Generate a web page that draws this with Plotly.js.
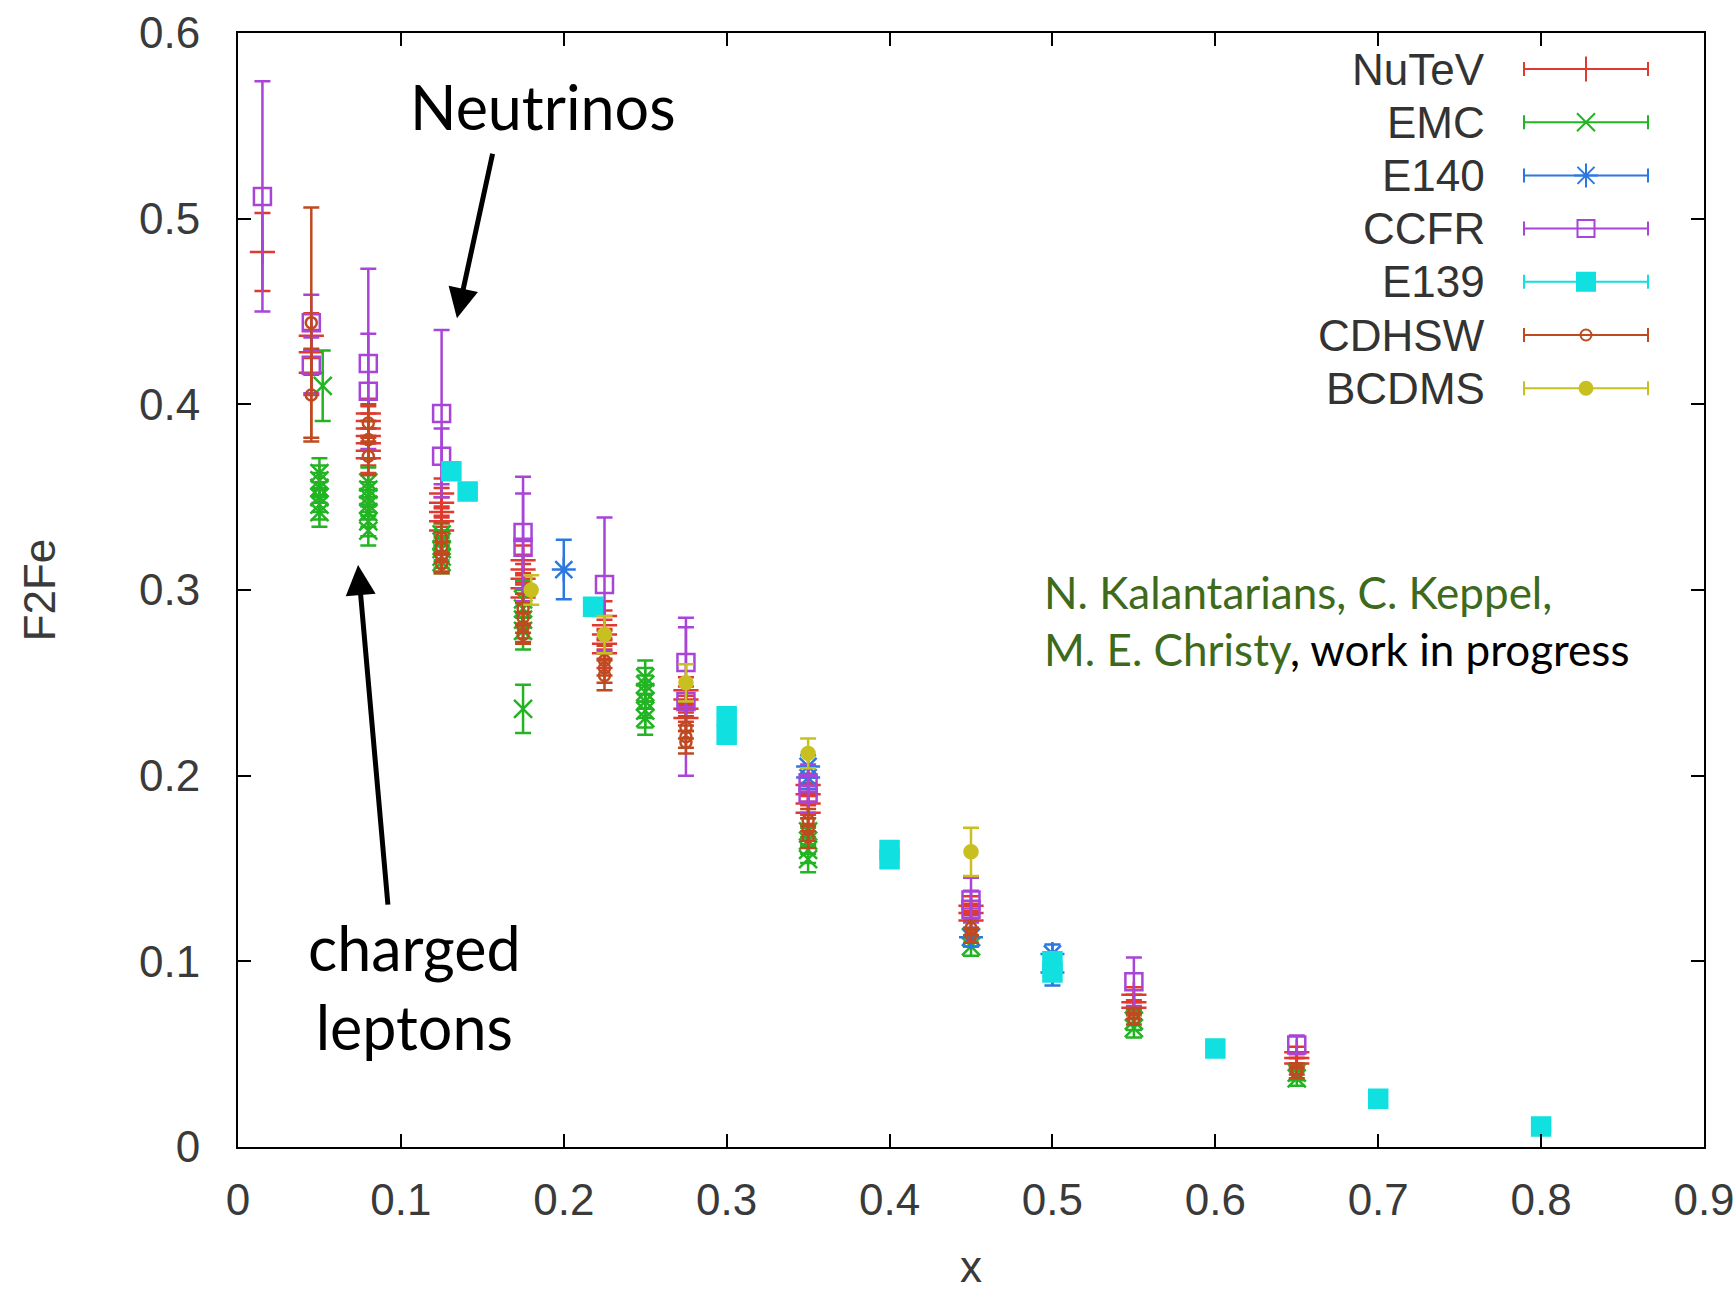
<!DOCTYPE html>
<html><head><meta charset="utf-8">
<script src="https://cdn.plot.ly/plotly-3.0.1.min.js"></script>
<style>html,body{margin:0;padding:0;background:#fff}#chart{width:1736px;height:1291px}</style>
</head><body><div id="chart"></div>
<script>
// ---------------- data ----------------
const seriesNames = ["NuTeV", "EMC", "E140", "CCFR", "E139", "CDHSW", "BCDMS"];

const nutevX = [0.015, 0.045,0.045,0.045, 0.08,0.08,0.08,0.08,0.08,0.08,0.08, 0.125,0.125,0.125,0.125,0.125, 0.175,0.175,0.175,0.175,0.175, 0.225,0.225,0.225,0.225,0.225, 0.275,0.275,0.275,0.275, 0.35,0.35,0.35,0.35, 0.45,0.45,0.45, 0.55,0.55,0.55, 0.65,0.65,0.65];
const nutevY = [0.482, 0.437,0.428,0.417, 0.395,0.391,0.387,0.383,0.379,0.375,0.371, 0.352,0.347,0.342,0.337,0.332, 0.316,0.311,0.306,0.301,0.296, 0.286,0.281,0.276,0.271,0.266, 0.246,0.241,0.236,0.231, 0.195,0.190,0.185,0.180, 0.130,0.126,0.122, 0.082,0.078,0.075, 0.051,0.048,0.045];
const nutevE = [0.021, 0.012,0.012,0.012, 0.008,0.008,0.008,0.008,0.008,0.008,0.008, 0.008,0.008,0.008,0.008,0.008, 0.008,0.008,0.008,0.008,0.008, 0.008,0.008,0.008,0.008,0.008, 0.007,0.007,0.007,0.007, 0.006,0.006,0.006,0.006, 0.005,0.005,0.005, 0.004,0.004,0.004, 0.003,0.003,0.003];

const emcX = [0.052, 0.05,0.05,0.05,0.05,0.05,0.05, 0.08,0.08,0.08,0.08,0.08,0.08,0.08, 0.125,0.125,0.125,0.125,0.125, 0.175,0.175,0.175,0.175, 0.175, 0.25,0.25,0.25,0.25,0.25,0.25, 0.35,0.35,0.35,0.35, 0.45,0.45, 0.55,0.55, 0.65,0.65];
const emcY = [0.410, 0.363,0.359,0.355,0.350,0.346,0.342, 0.358,0.354,0.350,0.346,0.342,0.337,0.332, 0.330,0.326,0.322,0.318,0.315, 0.295,0.290,0.284,0.278, 0.236, 0.253,0.249,0.245,0.240,0.235,0.231, 0.170,0.165,0.160,0.155, 0.113,0.108, 0.068,0.064, 0.040,0.037];
const emcE = [0.019, 0.008,0.008,0.008,0.008,0.008,0.008, 0.008,0.008,0.008,0.008,0.008,0.008,0.008, 0.006,0.006,0.006,0.006,0.006, 0.010,0.010,0.010,0.010, 0.013, 0.009,0.009,0.009,0.009,0.009,0.009, 0.007,0.007,0.007,0.007, 0.005,0.005, 0.005,0.005, 0.004,0.004];

const e140X = [0.2, 0.35, 0.35, 0.45, 0.5, 0.5];
const e140Y = [0.311, 0.205, 0.199, 0.113, 0.104, 0.094];
const e140E = [0.016, 0.006, 0.006, 0.005, 0.005, 0.007];

const ccfrX = [0.015, 0.045,0.045, 0.08,0.08, 0.125,0.125, 0.175,0.175, 0.225, 0.275,0.275, 0.35,0.35, 0.45,0.45, 0.55, 0.65];
const ccfrY = [0.512, 0.444,0.421, 0.422,0.407, 0.395,0.372, 0.331,0.323, 0.303, 0.261,0.240, 0.196,0.190, 0.133,0.128, 0.089, 0.055];
const ccfrE = [0.062, 0.015,0.015, 0.051,0.031, 0.045,0.015, 0.030,0.029, 0.036, 0.024,0.040, 0.010,0.010, 0.012,0.010, 0.013, 0.005];

const e139X = [0.131, 0.141, 0.218, 0.3, 0.3, 0.4, 0.4, 0.5, 0.5, 0.6, 0.7, 0.8];
const e139Y = [0.364, 0.353, 0.291, 0.232, 0.222, 0.160, 0.155, 0.100, 0.094, 0.053, 0.026, 0.011];
const e139E = [0.003, 0.003, 0.003, 0.003, 0.003, 0.003, 0.003, 0.003, 0.003, 0.002, 0.002, 0.002];

const cdhswX = [0.045,0.045, 0.08,0.08,0.08, 0.125,0.125,0.125,0.125, 0.175,0.175,0.175,0.175, 0.225,0.225,0.225, 0.275,0.275,0.275, 0.35,0.35,0.35, 0.45,0.45, 0.55,0.55, 0.65,0.65];
const cdhswY = [0.444,0.405, 0.390,0.381,0.372, 0.328,0.323,0.318,0.314, 0.290,0.285,0.280,0.276, 0.262,0.258,0.254, 0.226,0.221,0.218, 0.176,0.171,0.167, 0.118,0.114, 0.072,0.069, 0.042,0.040];
const cdhswE = [0.062,0.025, 0.010,0.010,0.010, 0.008,0.008,0.008,0.005, 0.008,0.008,0.008,0.005, 0.008,0.008,0.008, 0.006,0.006,0.006, 0.006,0.006,0.006, 0.004,0.004, 0.003,0.003, 0.003,0.003];

const bcdmsX = [0.18, 0.225, 0.275, 0.35, 0.45];
const bcdmsY = [0.300, 0.276, 0.250, 0.212, 0.159];
const bcdmsE = [0.008, 0.010, 0.010, 0.008, 0.013];

const xTicks = [0, 0.1, 0.2, 0.3, 0.4, 0.5, 0.6, 0.7, 0.8, 0.9];
const yTicks = [0, 0.1, 0.2, 0.3, 0.4, 0.5, 0.6];

// ---------------- styles ----------------
const colors  = ["#e03a30", "#22b422", "#2a78e0", "#a844d8", "#10e0e0", "#c04a20", "#c8c020"];
const symbols = ["cross-thin-open", "x-thin-open", "asterisk-open", "square-open", "square", "circle-open", "circle"];
const sizes   = [18, 18, 20, 17, 18, 11, 13];
const xs = [nutevX, emcX, e140X, ccfrX, e139X, cdhswX, bcdmsX];
const ys = [nutevY, emcY, e140Y, ccfrY, e139Y, cdhswY, bcdmsY];
const es = [nutevE, emcE, e140E, ccfrE, e139E, cdhswE, bcdmsE];

const W = 1736, H = 1291;
const PL = 238, PR = 1704, PT = 33, PB = 1147;
const pxToPaperX = px => (px - PL) / (PR - PL);
const pxToPaperY = py => (PB - py) / (PB - PT);

const traces = [];
seriesNames.forEach((n, i) => {
  traces.push({
    type: "scatter", mode: "markers", name: n, showlegend: false,
    x: xs[i], y: ys[i],
    error_y: {type: "data", array: es[i], visible: true, color: colors[i], thickness: 2.5, width: 8},
    marker: {symbol: symbols[i], size: sizes[i], color: colors[i], line: {width: 2.5, color: colors[i]}},
    hoverinfo: "skip"
  });
});

// custom gnuplot-style legend (samples on an overlay axis in plot-fraction units)
const legTextRight = 1487, legCenter = 1586, legHalf = 62, legRow0 = 69, legStep = 53.2;
const annotations = [];
seriesNames.forEach((n, i) => {
  const py = legRow0 + i * legStep;
  traces.push({
    type: "scatter", mode: "markers", xaxis: "x2", yaxis: "y2", showlegend: false,
    x: [pxToPaperX(legCenter)], y: [pxToPaperY(py)],
    error_x: {type: "data", array: [legHalf / (PR - PL)], visible: true, color: colors[i], thickness: 2, width: 7},
    marker: {symbol: symbols[i], size: sizes[i], color: colors[i], line: {width: 2, color: colors[i]}},
    hoverinfo: "skip"
  });
  annotations.push({
    xref: "paper", yref: "paper", x: pxToPaperX(legTextRight), y: pxToPaperY(py),
    xanchor: "right", yanchor: "middle", showarrow: false, text: n,
    font: {family: "Liberation Sans, Arial, sans-serif", size: 44, color: "#333"}
  });
});

const gill = "Lato, 'Open Sans', sans-serif";
annotations.push(
  {xref: "paper", yref: "paper", x: pxToPaperX(543), y: pxToPaperY(107), xanchor: "center", yanchor: "middle",
   showarrow: false, text: "Neutrinos", font: {family: gill, size: 61, color: "#000"}},
  {xref: "x", yref: "y", x: 0.1344, y: 0.4464, ax: 36, ay: -166, axref: "pixel", ayref: "pixel",
   text: "", showarrow: true, arrowhead: 2, arrowsize: 1.2, arrowwidth: 5, arrowcolor: "#000"},
  {xref: "paper", yref: "paper", x: pxToPaperX(414), y: pxToPaperY(987), xanchor: "center", yanchor: "middle",
   showarrow: false, text: "charged<br>leptons", align: "center", font: {family: gill, size: 61, color: "#000"}},
  {xref: "x", yref: "y", x: 0.0737, y: 0.3134, ax: 30, ay: 341, axref: "pixel", ayref: "pixel",
   text: "", showarrow: true, arrowhead: 2, arrowsize: 1.2, arrowwidth: 5, arrowcolor: "#000"},
  {xref: "paper", yref: "paper", x: pxToPaperX(1042), y: pxToPaperY(620), xanchor: "left", yanchor: "middle",
   showarrow: false, align: "left",
   text: "<span style='color:#3e6a1c'>N. Kalantarians, C. Keppel,</span><br><span style='color:#3e6a1c'>M. E. Christy</span>, work in progress",
   font: {family: gill, size: 44, color: "#000"}}
);

const tickFont = {family: "Liberation Sans, Arial, sans-serif", size: 44, color: "#3a3a3a"};
const axisBase = {
  showline: true, linecolor: "#000", linewidth: 2, mirror: "ticks",
  ticks: "inside", ticklen: 13, tickwidth: 2, tickcolor: "#000",
  showgrid: false, zeroline: false, tickfont: tickFont
};

const layout = {
  width: W, height: H,
  margin: {l: PL, r: W - PR, t: PT, b: H - PB},
  paper_bgcolor: "#fff", plot_bgcolor: "#fff",
  showlegend: false,
  xaxis: Object.assign({}, axisBase, {
    range: [0, 0.9], tickvals: xTicks, ticktext: xTicks.map(String), ticklabelstandoff: 13,
    title: {text: "x", font: {family: "Liberation Sans, Arial, sans-serif", size: 44, color: "#3a3a3a"}, standoff: 59}
  }),
  yaxis: Object.assign({}, axisBase, {
    range: [0, 0.6], tickvals: yTicks, ticktext: yTicks.map(String), ticklabelstandoff: 27,
    title: {text: "F2Fe", font: {family: "Liberation Sans, Arial, sans-serif", size: 44, color: "#3a3a3a"}, standoff: 70}
  }),
  xaxis2: {overlaying: "x", range: [0, 1], visible: false, anchor: "y2"},
  yaxis2: {overlaying: "y", range: [0, 1], visible: false, anchor: "x2"},
  annotations: annotations
};

Plotly.newPlot("chart", traces, layout, {staticPlot: true, displayModeBar: false});
</script></body></html>
